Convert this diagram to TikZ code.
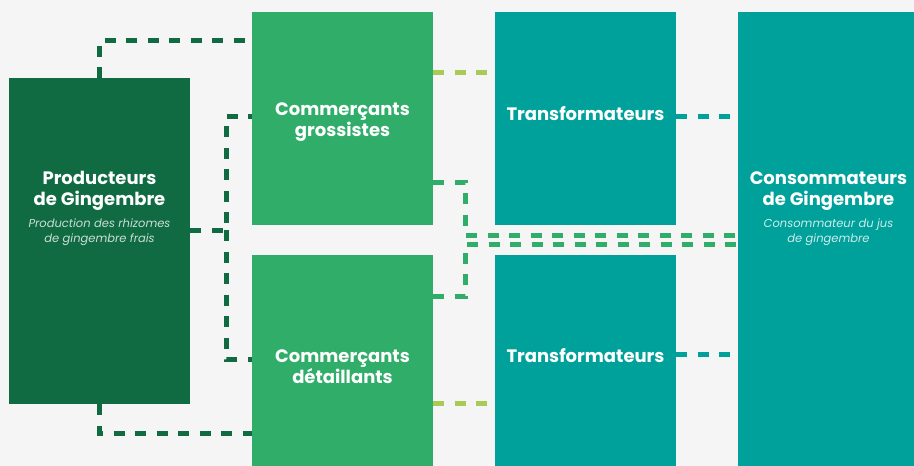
\documentclass[tikz,border=0pt]{standalone}
\usepackage{fontspec}
\setmainfont{Poppins}
\usepackage{tikz}
\definecolor{bgray}{HTML}{F5F5F5}
\definecolor{darkgreen}{HTML}{106B43}
\definecolor{midgreen}{HTML}{2FAD69}
\definecolor{teal}{HTML}{00A19A}
\definecolor{lightgreen}{HTML}{A8CB56}
\tikzstyle{actor} = [rectangle, inner sep=0pt, outer sep=0pt, minimum width=181pt]
\tikzstyle{title} = [text=white, align=center, inner sep=0pt, font=\bfseries\fontsize{18}{21}\selectfont]
\tikzstyle{subtitle} = [align=center, inner sep=0pt, font=\itshape\fontsize{11.5}{15}\selectfont]
\tikzstyle{flow} = [line width=5pt, dash pattern=on 11pt off 10.5pt]

\begin{document}
\begin{tikzpicture}[x=1pt, y=-1pt, node distance=243pt]
\useasboundingbox [fill=bgray] (0,0) rectangle (914,466);

\node (pro) [actor, fill=darkgreen, minimum height=326pt] at (99.5,241) {};
\node (gro) [actor, fill=midgreen, minimum height=213pt, right of=pro, yshift=122.5pt] {};
\node (det) [actor, fill=midgreen, minimum height=213pt, below of=gro] {};
\node (tra1) [actor, fill=teal, minimum height=213pt, right of=gro] {};
\node (tra2) [actor, fill=teal, minimum height=213pt, right of=det] {};
\node (con) [actor, fill=teal, minimum height=457pt, right of=tra1, yshift=-122pt] {};

% texts
\node (protitle) [title] at ([yshift=50pt]pro.center) {Producteurs\\de Gingembre};
\node (prosub) [subtitle, text=white!78!darkgreen] at ([yshift=8.5pt]pro.center) {Production des rhizomes\\de gingembre frais};
\node (grotitle) [title] at ([yshift=-3.5pt]gro.center) {Commerçants\\grossistes};
\node (dettitle) [title] at ([yshift=-5.5pt]det.center) {Commerçants\\détaillants};
\node (tra1title) [title] at ([yshift=4.5pt]tra1.center) {Transformateurs};
\node (tra2title) [title] at ([yshift=5.5pt]tra2.center) {Transformateurs};
\node (contitle) [title] at ([yshift=49.5pt]con.center) {Consommateurs\\de Gingembre};
\node (consub) [subtitle, text=white!80!teal] at ([yshift=8.5pt]con.center) {Consommateur du jus\\de gingembre};

% producers to traders
\draw [flow, darkgreen] (pro.north) |- ([yshift=78.5pt]gro.west);
\draw [flow, darkgreen] (pro.south) |- ([yshift=-71.5pt]det.west);
\draw [flow, darkgreen] ([yshift=11pt]pro.east) -- ++(36,0) coordinate (pm) |- ([yshift=2.5pt]gro.west);
\draw [flow, darkgreen] (pm) |- ([yshift=2.5pt]det.west);

% traders to processors
\draw [flow, lightgreen] ([yshift=46.5pt]gro.east) -- ([yshift=46.5pt]tra1.west);
\draw [flow, lightgreen] ([yshift=-41.5pt]det.east) -- ([yshift=-41.5pt]tra2.west);

% traders to consumers
\draw [flow, midgreen] ([yshift=-63.5pt]gro.east) -- ++(32,0) |- ([yshift=5.5pt]con.west);
\draw [flow, midgreen] ([yshift=65.5pt]det.east) -- ++(32,0) |- ([yshift=-3.5pt]con.west);

% processors to consumers
\draw [flow, teal] ([yshift=2.5pt]tra1.east) -- ([yshift=2.5pt]tra1.east -| con.west);
\draw [flow, teal] ([yshift=7.5pt]tra2.east) -- ([yshift=7.5pt]tra2.east -| con.west);
\end{tikzpicture}
\end{document}
